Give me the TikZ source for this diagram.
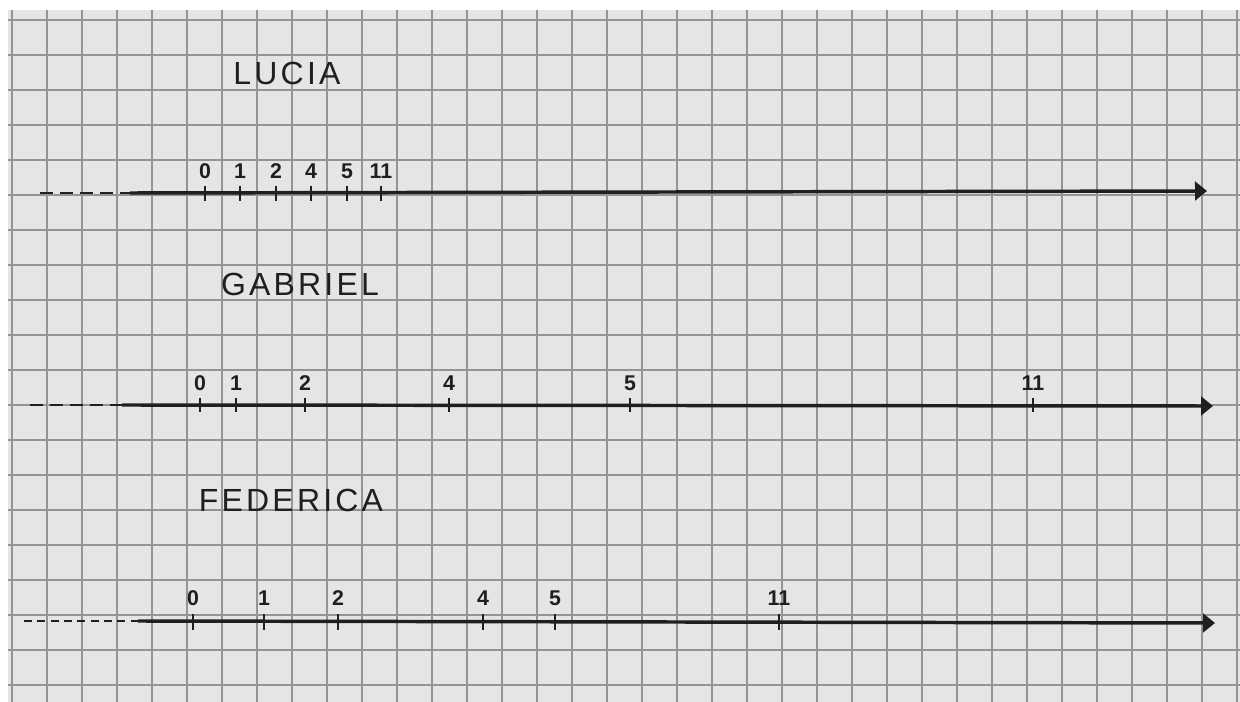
\documentclass[tikz,border=0pt]{standalone}
\usepackage{fontspec}
\setmainfont{Liberation Sans}
\newfontfamily\hand{Liberation Sans}[LetterSpace=10]
\definecolor{ink}{rgb}{0.12, 0.12, 0.12}
\definecolor{paper}{rgb}{0.9, 0.9, 0.9}
\definecolor{gridgray}{rgb}{0.58, 0.58, 0.58}
\usetikzlibrary{arrows.meta,positioning}

\begin{document}
\begin{tikzpicture}[x=0.75pt,y=0.75pt,yscale=-1,xscale=1,
		gridline/.style={color=gridgray, line width=1.1pt},
		numline/.style={color=ink, line width=2.6pt, -{Triangle[length=9pt,width=14pt]}},
		dashline/.style={color=ink, line width=2.2pt, dash pattern={on 10pt off 5pt}},
		tickmark/.style={color=ink, line width=2pt},
		numlabel/.style={color=ink, anchor=south, inner sep=0pt, font=\bfseries\fontsize{16}{16}\selectfont},
		namelabel/.style={color=ink, inner sep=0pt, font=\hand\fontsize{24}{24}\selectfont}]
				\useasboundingbox (0,0) rectangle (1240,702);
				
				%Shape: Paper
				\fill [white] (0,0) rectangle (1240,702);
				\fill [paper] (8,10) rectangle (1240,702);
				%Grid
				\foreach \i in {0,...,35} \draw [gridline] ({12+35*\i},10) -- ({12+35*\i},702);
				\foreach \j in {0,...,19} \draw [gridline] (8,{20+35*\j}) -- (1240,{20+35*\j});
				
				% Text Node
				\node [namelabel] (lucia) at (287,73) {LUCIA};
				% Text Node
				\node [namelabel] (gabriel) at (300,284) {GABRIEL};
				% Text Node
				\node [namelabel] (federica) at (291,500) {FEDERICA};
				
				%Straight Lines: Lucia
				\coordinate (lucia-a) at (40,193);
				\coordinate (lucia-b) at (130,193);
				\coordinate (lucia-c) at (1207,191);
				\draw [dashline] (lucia-a) -- (lucia-b);
				\draw [numline] (lucia-b) -- (lucia-c);
				\foreach \x/\n in {205/0,240/1,276/2,311/4,347/5,381/11} {
					\draw [tickmark] (\x,186) -- (\x,201);
					\node [numlabel] (lucia-\n) at (\x,179) {\n};
				}
				
				%Straight Lines: Gabriel
				\coordinate (gabriel-a) at (30,405);
				\coordinate (gabriel-b) at (122,405);
				\coordinate (gabriel-c) at (1213,406);
				\draw [dashline] (gabriel-a) -- (gabriel-b);
				\draw [numline] (gabriel-b) -- (gabriel-c);
				\foreach \x/\n in {200/0,236/1,305/2,449/4,630/5,1033/11} {
					\draw [tickmark] (\x,398) -- (\x,412);
					\node [numlabel] (gabriel-\n) at (\x,391) {\n};
				}
				
				%Straight Lines: Federica
				\coordinate (federica-a) at (24,621);
				\coordinate (federica-b) at (138,621);
				\coordinate (federica-c) at (1215,623);
				\draw [dashline, dash pattern={on 6pt off 4pt}] (federica-a) -- (federica-b);
				\draw [numline] (federica-b) -- (federica-c);
				\foreach \x/\n in {193/0,264/1,338/2,483/4,555/5,779/11} {
					\draw [tickmark] (\x,614) -- (\x,630);
					\node [numlabel] (federica-\n) at (\x,606) {\n};
				}
				
			\end{tikzpicture}
\end{document}
